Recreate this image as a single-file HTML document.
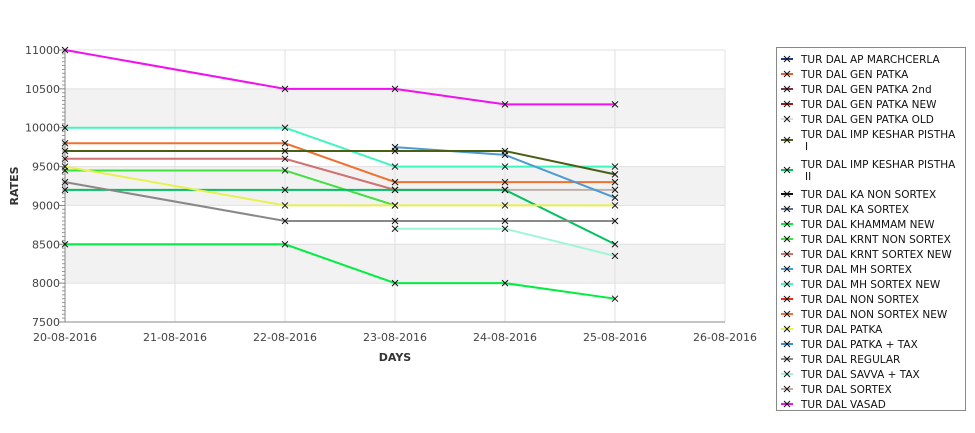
<!DOCTYPE html>
<html><head><meta charset="utf-8"><style>
body{margin:0;background:#fff;width:975px;height:429px;overflow:hidden;font-family:"DejaVu Sans","Liberation Sans",sans-serif}
</style></head><body>
<svg id="c" width="975" height="429" xmlns="http://www.w3.org/2000/svg"></svg>
<script>
const dates=["20-08-2016","21-08-2016","22-08-2016","23-08-2016","24-08-2016","25-08-2016","26-08-2016"];
const yTicks=[7500,8000,8500,9000,9500,10000,10500,11000];
const seriesNames=["TUR DAL AP MARCHCERLA","TUR DAL GEN PATKA","TUR DAL GEN PATKA 2nd","TUR DAL GEN PATKA NEW","TUR DAL GEN PATKA OLD","TUR DAL IMP KESHAR PISTHA I","TUR DAL IMP KESHAR PISTHA II","TUR DAL KA NON SORTEX","TUR DAL KA SORTEX","TUR DAL KHAMMAM NEW","TUR DAL KRNT NON SORTEX","TUR DAL KRNT SORTEX NEW","TUR DAL MH SORTEX","TUR DAL MH SORTEX NEW","TUR DAL NON SORTEX","TUR DAL NON SORTEX NEW","TUR DAL PATKA","TUR DAL PATKA + TAX","TUR DAL REGULAR","TUR DAL SAVVA + TAX","TUR DAL SORTEX","TUR DAL VASAD"];
const seriesColors=["#1a3a8a","#e8602c","#7a3050","#a01818","#dddddd","#4a5e14","#00c060","#111111","#607090","#00ee40","#40e040","#d07070","#4b9bd0","#40f5c0","#ee2a10","#f07030","#e8f050","#3090d0","#888888","#a0f5d8","#c0b0a8","#f010f0"];
// values per series at dates[0..5] (null = no data)
const vasad=[11000,null,10500,10500,10300,10300];
const mhSortexNew=[10000,null,10000,9500,9500,9500];
const nonSortexNew=[9800,null,9800,9300,9300,9300];
const impKesharI=[9700,null,9700,9700,9700,9400];
const krntSortexNew=[9600,null,9600,9200,9200,null];
const sortex=[null,null,null,null,9200,9200];
const krntNonSortex=[9450,null,9450,9000,null,null];
const impKesharII=[9200,null,9200,9200,9200,8500];
const patka=[9500,null,9000,9000,9000,9000];
const regular=[9300,null,8800,8800,8800,8800];
const khammamNew=[8500,null,8500,8000,8000,7800];
const mhSortex=[null,null,null,9750,9650,9100];
const savvaTax=[null,null,null,8700,8700,8350];
const plotted=[[vasad,21],[mhSortexNew,13],[nonSortexNew,15],[krntSortexNew,11],[sortex,20],[krntNonSortex,10],[impKesharII,6],[patka,16],[regular,18],[khammamNew,9],[mhSortex,12],[savvaTax,19],[impKesharI,5]];

const NS="http://www.w3.org/2000/svg",svg=document.getElementById('c');
const X0=65,X1=725,Y0=322,Y1=50;
const xs=i=>X0+(X1-X0)*i/(dates.length-1);
const ys=v=>Y0-(v-7500)*(Y0-Y1)/3500;
function mk(t,a,p){const e=document.createElementNS(NS,t);for(const k in a)e.setAttribute(k,a[k]);(p||svg).appendChild(e);return e;}
// bands
for(let i=0;i<yTicks.length-1;i++){if(i%2===1){const b=mk('rect',{x:X0,y:ys(yTicks[i+1]),width:X1-X0,height:ys(yTicks[i])-ys(yTicks[i+1]),fill:'#f2f2f2'});

}}
yTicks.forEach(v=>{const l=mk('line',{x1:X0,x2:X1,y1:ys(v),y2:ys(v),stroke:'#e0e0e0'});


const t=mk('text',{x:X0-5,y:ys(v)+4,'text-anchor':'end','font-size':11,fill:'#444'});t.textContent=v;


for(let k=1;k<10&&v<11000;k++){mk('line',{x1:X0-3,x2:X0,y1:ys(v+k*50),y2:ys(v+k*50),stroke:'#999'});}
mk('line',{x1:X0-6,x2:X0,y1:ys(v),y2:ys(v),stroke:'#888'});});
dates.forEach((d,i)=>{const l=mk('line',{x1:xs(i),x2:xs(i),y1:Y1,y2:Y0,stroke:'#e0e0e0'});


const t=mk('text',{x:xs(i),y:Y0+19,'text-anchor':'middle','font-size':11,fill:'#444'});t.textContent=d;

});
mk('line',{x1:X0,x2:X0,y1:Y1,y2:Y0,stroke:'#888'});
mk('line',{x1:X0,x2:X1,y1:Y0,y2:Y0,stroke:'#888'});
const yt=mk('text',{x:18,y:186,'text-anchor':'middle','font-size':11,'font-weight':'bold',fill:'#333',transform:'rotate(-90 18 186)'});yt.textContent='RATES';


const xt=mk('text',{x:395,y:361,'text-anchor':'middle','font-size':11,'font-weight':'bold',fill:'#333'});xt.textContent='DAYS';


function cross(x,y,p){mk('path',{d:`M${x-3} ${y-3}L${x+3} ${y+3}M${x-3} ${y+3}L${x+3} ${y-3}`,stroke:'#111','stroke-width':1},p);}
plotted.forEach(([vals,ci])=>{const g=mk('g',{});


let pts=[];vals.forEach((v,i)=>{if(v!=null)pts.push([xs(i),ys(v)]);});
if(pts.length>1)mk('polyline',{points:pts.map(p=>p.join(',')).join(' '),fill:'none',stroke:seriesColors[ci],'stroke-width':2},g);
pts.forEach(p=>cross(p[0],p[1],g));});
// legend
const lg=mk('g',{});


mk('rect',{x:776.5,y:47.5,width:189,height:363,fill:'#fff',stroke:'#888'},lg);
let y=59;
seriesNames.forEach((n,i)=>{const two=n.includes('PISTHA');const e=mk('g',{},lg);


const cy=two?y+6:y;
mk('line',{x1:781,x2:793,y1:cy,y2:cy,stroke:seriesColors[i],'stroke-width':2},e);cross(787,cy,e);
const t=mk('text',{x:801,y:y+4,'font-size':10.5,fill:'#111'},e);
if(two){t.textContent=n.replace(/ (I+)$/,'');const t2=mk('text',{x:805,y:y+16,'font-size':10.5,fill:'#111'},e);t2.textContent=n.match(/ (I+)$/)[1];y+=30;}
else{t.textContent=n;y+=15;}});
</script>
</body></html>
